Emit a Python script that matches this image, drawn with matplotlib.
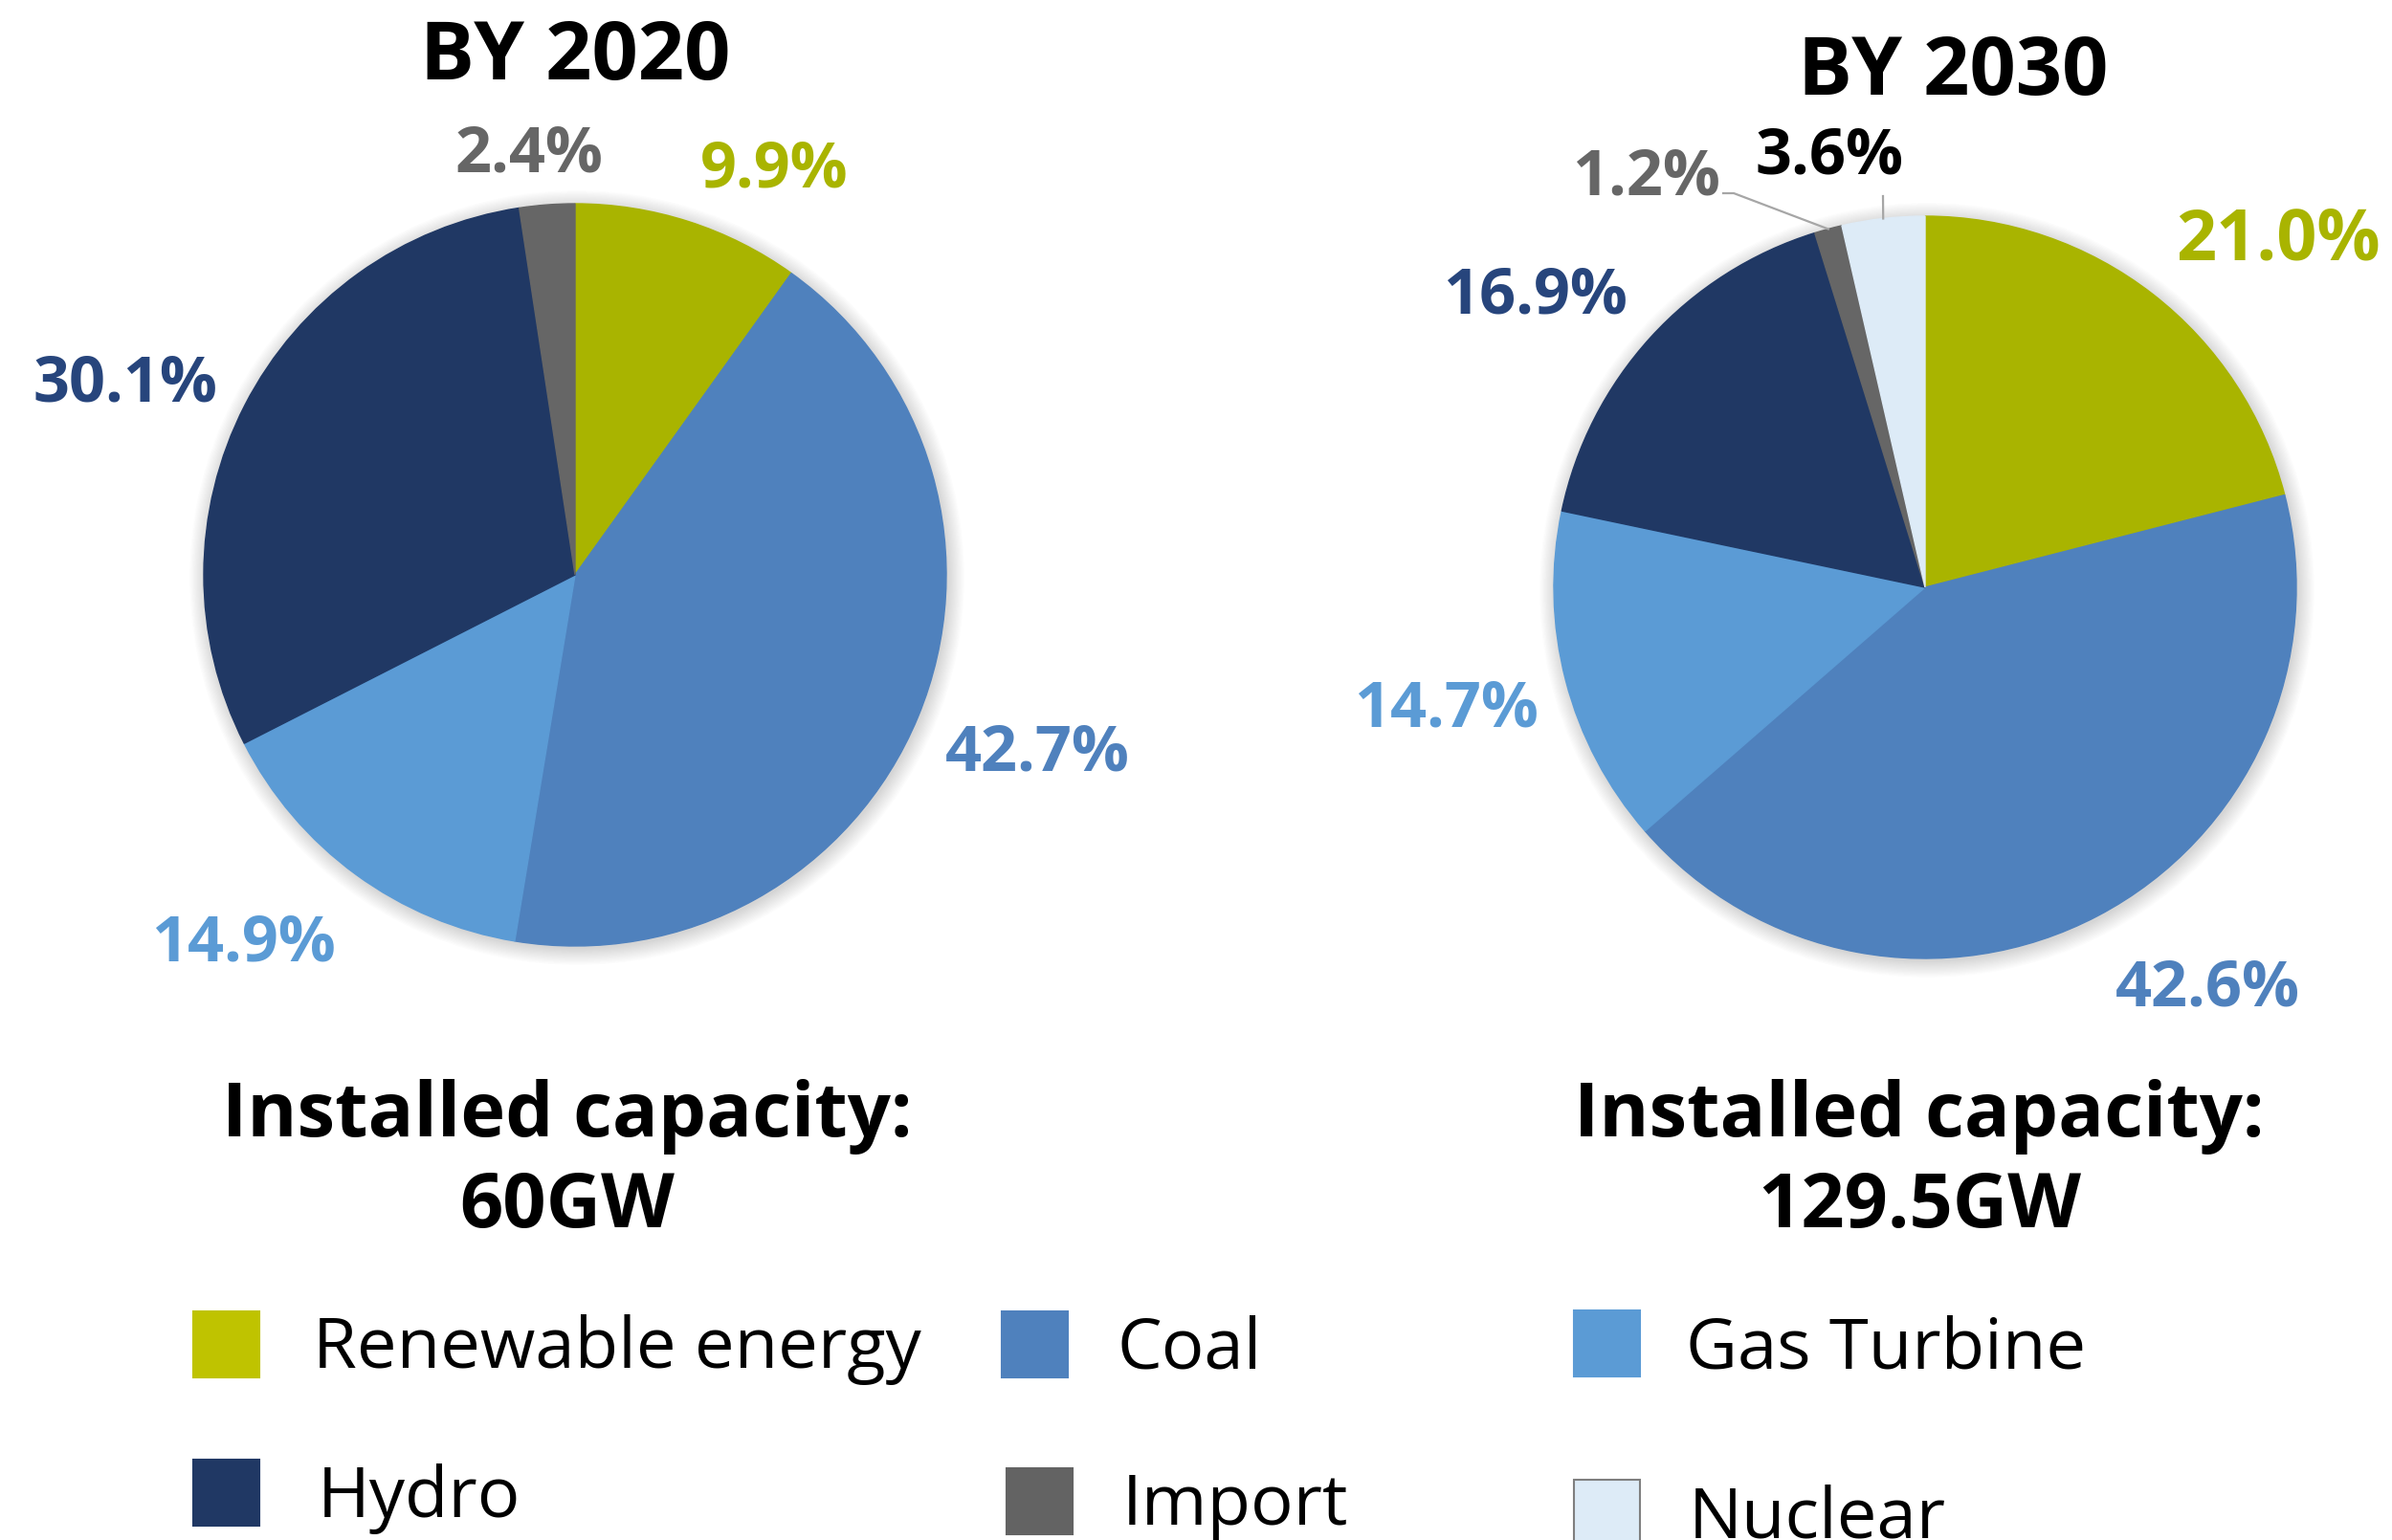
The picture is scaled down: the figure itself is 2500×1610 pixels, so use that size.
import matplotlib
matplotlib.use("Agg")
import numpy as np
import matplotlib.pyplot as plt
from matplotlib.patches import Circle, Rectangle

W, H = 2500, 1610  # output size in pixels

# data
categories = ["Renewable energy", "Coal", "Gas Turbine", "Hydro", "Import", "Nuclear"]
share_2020 = [9.9, 42.7, 14.9, 30.1, 2.4, 0.0]
share_2030 = [21.0, 42.6, 14.7, 16.9, 1.2, 3.6]
titles = ["BY 2020", "BY 2030"]
capacity = ["60GW", "129.5GW"]

slice_colors = ["#A9B400", "#4F81BD", "#5B9BD5", "#203864", "#666666", "#DDEBF7"]
label_colors = ["#A9B400", "#4F81BD", "#5B9BD5", "#27457C", "#666666", "#000000"]
legend_colors = ["#BFC300", "#4F81BD", "#5B9BD5", "#203864", "#636363", "#DDEBF7"]

plt.rcParams['font.family'] = ['Open Sans', 'DejaVu Sans']

fig = plt.figure(figsize=(W / 100, H / 100), dpi=100)
ax = fig.add_axes([0, 0, 1, 1])


def up(y):
    # picture rows count from the top, matplotlib from the bottom
    return H - y


def draw_pie(shares, cx, cy, r, spots, sizes):
    # soft shadow round the disc
    for k in range(14):
        ax.add_patch(Circle((cx + 2, up(cy) - 3), r + k * 1.3, fc='black',
                            alpha=0.012, lw=0, zorder=1))
    idx = [i for i, v in enumerate(shares) if v > 0]
    wedges, _ = ax.pie([shares[i] for i in idx], colors=[slice_colors[i] for i in idx],
                       startangle=90, counterclock=False, center=(cx, up(cy)),
                       radius=r, frame=True)
    for w in wedges:
        w.set_edgecolor(w.get_facecolor())
        w.set_linewidth(1)
        w.set_zorder(2)
    for i in idx:
        x, y = spots[i]
        ax.text(x, up(y), f"{shares[i]:.1f}%", color=label_colors[i], fontsize=sizes[i],
                fontweight='bold', ha='center', va='baseline', zorder=5)
    return dict(zip(idx, wedges))


# left pie, 2020
draw_pie(share_2020, 601, 601, 388,
         [(809, 195), (1084, 805), (254, 1004), (131, 419), (553, 179), None],
         [48, 48, 48, 48, 48, 48])

# right pie, 2030
w30 = draw_pie(share_2030, 2012, 614, 388,
               [(2381, 271), (2307, 1051), (1511, 759), (1604, 327), (1720, 203), (1912, 182)],
               [53, 48, 48, 48, 48, 48])

# leader lines for the two thin slices
for i, (sx, sy, ex) in {4: (1801, 202, 1812), 5: (1968, 205, 1968)}.items():
    w = w30[i]
    mid = np.deg2rad((w.theta1 + w.theta2) / 2)
    px_, py_ = w.center[0] + w.r * np.cos(mid), w.center[1] + w.r * np.sin(mid)
    ax.plot([sx, ex, px_], [up(sy), up(sy), py_], color='#A6A6A6', lw=1.6, zorder=4)

# titles
ax.text(601, up(83), titles[0], fontsize=61, fontweight='bold', ha='center', va='baseline')
ax.text(2041, up(99), titles[1], fontsize=61, fontweight='bold', ha='center', va='baseline')

# installed capacity
for x, cap in zip([593, 2006], capacity):
    ax.text(x, up(1188), "Installed capacity:", fontsize=57.2, fontweight='bold',
            ha='center', va='baseline')
    ax.text(x, up(1283), cap, fontsize=57.2, fontweight='bold', ha='center', va='baseline')

# legend, drawn by hand to keep the odd spacing
sq = 69
box_pos = [(202, 1371), (1047, 1371), (1645, 1370), (202, 1526), (1052, 1535), (1645, 1547)]
text_pos = [(327, 1430), (1167, 1430), (1762, 1430), (332, 1586), (1173, 1594), (1765, 1607)]
for i, name in enumerate(categories):
    bx, by = box_pos[i]
    edge = '#7F7F7F' if name == "Nuclear" else legend_colors[i]
    ax.add_patch(Rectangle((bx, up(by + sq)), sq, sq, fc=legend_colors[i], ec=edge, lw=1.5))
    tx, ty = text_pos[i]
    ax.text(tx, up(ty), name, fontsize=53.5, ha='left', va='baseline')

ax.set_xlim(0, W)
ax.set_ylim(0, H)
ax.set_aspect('auto')
ax.axis('off')

fig.savefig('out.png', dpi=100, facecolor='white')
